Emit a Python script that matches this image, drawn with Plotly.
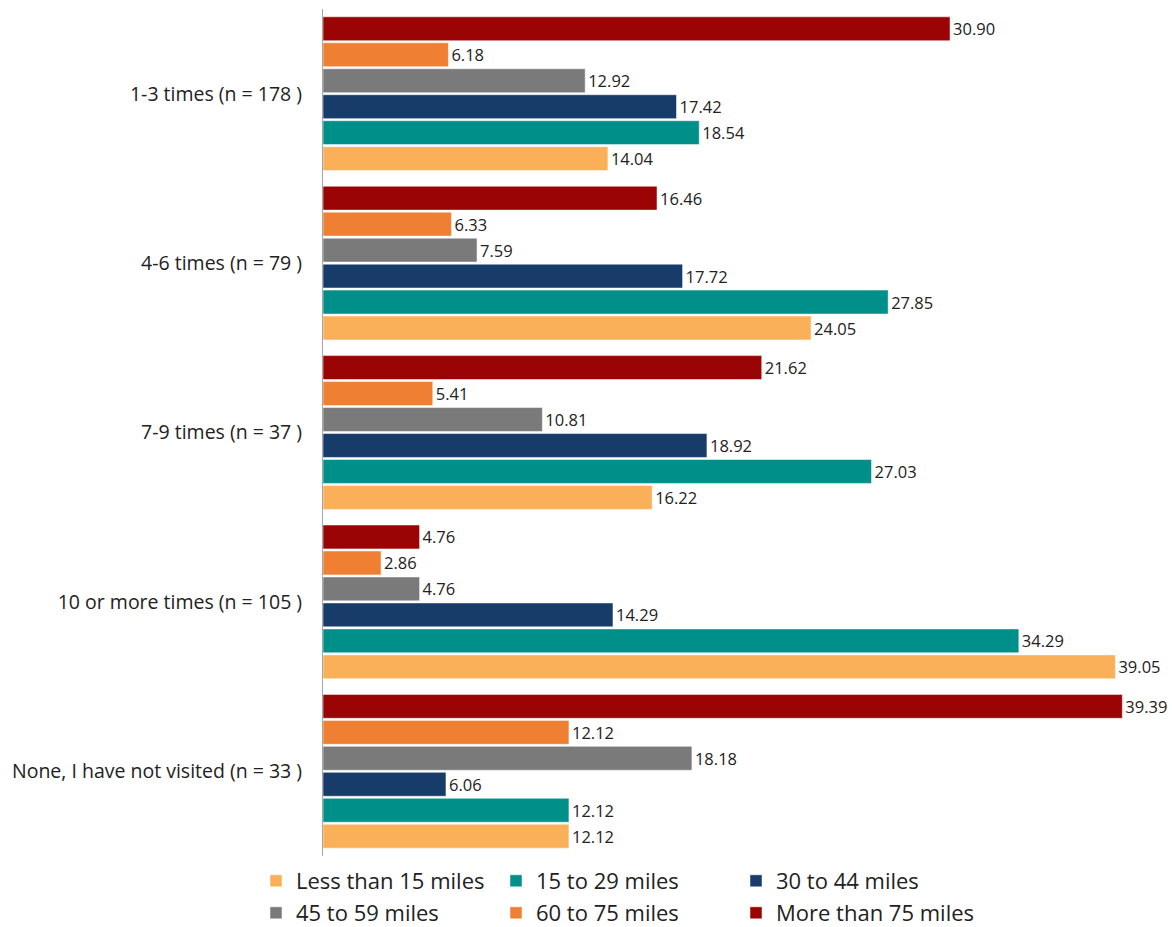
import plotly.graph_objects as go

categories = ["1-3 times (n = 178 )", "4-6 times (n = 79 )", "7-9 times (n = 37 )",
              "10 or more times (n = 105 )", "None, I have not visited (n = 33 )"]
series_names = ["Less than 15 miles", "15 to 29 miles", "30 to 44 miles",
                "45 to 59 miles", "60 to 75 miles", "More than 75 miles"]
less_than_15 = [14.04, 24.05, 16.22, 39.05, 12.12]
m15_29 = [18.54, 27.85, 27.03, 34.29, 12.12]
m30_44 = [17.42, 17.72, 18.92, 14.29, 6.06]
m45_59 = [12.92, 7.59, 10.81, 4.76, 18.18]
m60_75 = [6.18, 6.33, 5.41, 2.86, 12.12]
more_than_75 = [30.90, 16.46, 21.62, 4.76, 39.39]
series_values = [less_than_15, m15_29, m30_44, m45_59, m60_75, more_than_75]
colors = ["#FAB058", "#008F89", "#183C69", "#7A7A7A", "#EE7F33", "#9A0404"]
legends = ["legend", "legend", "legend", "legend2", "legend2", "legend3"]

fig = go.Figure()
for name, vals, col, lg in zip(series_names, series_values, colors, legends):
    fig.add_trace(go.Bar(
        y=categories, x=vals, name=name, orientation="h",
        marker=dict(color=col, line=dict(color="white", width=0.5)),
        texttemplate="%{x:.2f}", textposition="outside",
        textfont=dict(size=16.5, color="#222222", family="Open Sans"),
        cliponaxis=False, legend=lg, hoverinfo="skip",
    ))

legend_common = dict(orientation="h", xref="container", yref="container",
                     xanchor="left", yanchor="middle",
                     font=dict(size=22, color="#222222", family="Open Sans"),
                     bgcolor="rgba(0,0,0,0)", traceorder="normal")

fig.update_layout(
    width=1172, height=927,
    margin=dict(l=323, r=17, t=9, b=71, autoexpand=False),
    paper_bgcolor="white", plot_bgcolor="white",
    barmode="group", bargap=0.08, bargroupgap=0.08,
    font=dict(family="Open Sans", color="#222222"),
    xaxis=dict(range=[0, 41], visible=False, showgrid=False, zeroline=False),
    yaxis=dict(categoryorder="array", categoryarray=categories[::-1],
               showline=True, linecolor="#A6A6A6", linewidth=1,
               ticks="", ticklabelstandoff=16,
               tickfont=dict(size=19.5, color="#222222", family="Open Sans"),
               showgrid=False, zeroline=False),
    legend=dict(x=256 / 1172, y=1 - 881 / 927, entrywidth=195, **legend_common),
    legend2=dict(x=256 / 1172, y=1 - 913 / 927, entrywidth=195, **legend_common),
    legend3=dict(x=736 / 1172, y=1 - 913 / 927, entrywidth=0, **legend_common),
)

fig.write_html("out.html", config={"displayModeBar": False},
               post_script="document.body.style.margin='0';")
